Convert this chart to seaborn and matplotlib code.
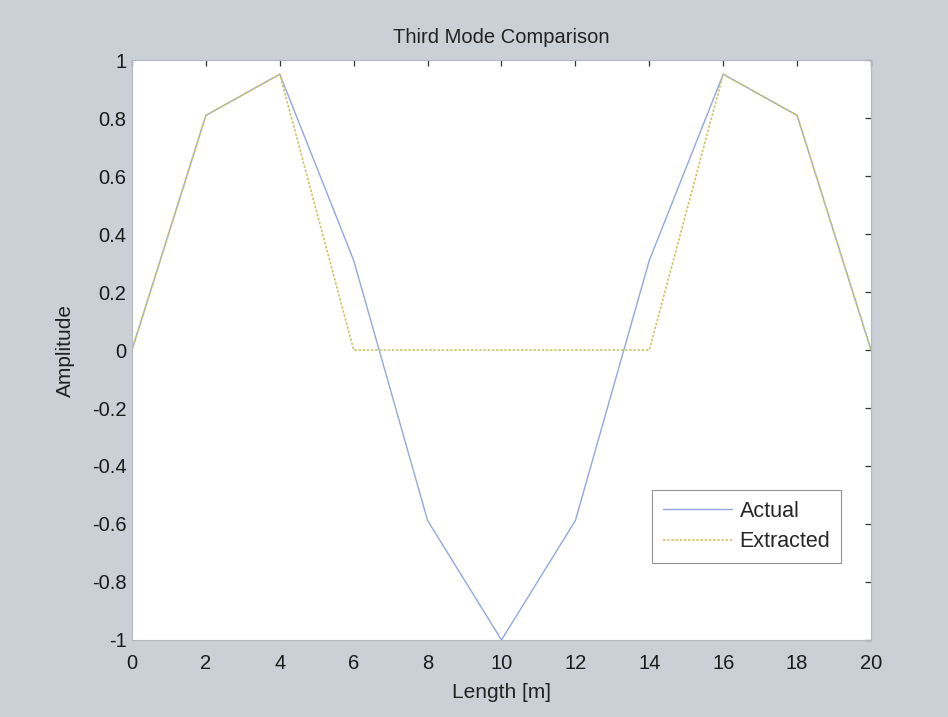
import matplotlib
matplotlib.use("Agg")
import matplotlib.pyplot as plt
import seaborn as sns
import pandas as pd

# Node positions along the beam and mode-shape amplitudes
length_m = [0, 2, 4, 6, 8, 10, 12, 14, 16, 18, 20]
actual = [0, 0.809, 0.951, 0.309, -0.588, -1.0, -0.588, 0.309, 0.951, 0.809, 0]
extracted = [0, 0.809, 0.951, 0, 0, 0, 0, 0, 0.951, 0.809, 0]

x_ticks = [0, 2, 4, 6, 8, 10, 12, 14, 16, 18, 20]
y_ticks = [-1, -0.8, -0.6, -0.4, -0.2, 0, 0.2, 0.4, 0.6, 0.8, 1]
y_tick_labels = ["-1", "-0.8", "-0.6", "-0.4", "-0.2", "0", "0.2", "0.4", "0.6", "0.8", "1"]

sns.set_theme(style="white")
plt.rcParams["font.family"] = ["Liberation Sans", "DejaVu Sans"]

fig = plt.figure(figsize=(9.48, 7.17), dpi=100)
fig.patch.set_facecolor("#cbd0d6")
ax = fig.add_axes([0.1392, 0.1074, 0.7796, 0.8089])
ax.set_facecolor("white")

df = pd.DataFrame({"Length": length_m, "Actual": actual, "Extracted": extracted})
sns.lineplot(data=df, x="Length", y="Actual", ax=ax, color="#94a6e2",
             linewidth=1.0, label="Actual")
sns.lineplot(data=df, x="Length", y="Extracted", ax=ax, color="#c9c765",
             linewidth=1.2, linestyle=(0, (1.5, 1.0)), label="Extracted")

ax.set_xlim(0, 20)
ax.set_ylim(-1, 1)
ax.set_xticks(x_ticks)
ax.set_yticks(y_ticks)
ax.set_yticklabels(y_tick_labels)
ax.tick_params(axis="both", direction="in", length=4, width=0.9, color="#333333",
               labelsize=14.5, labelcolor="#1a1a1a", top=True, right=True)
ax.tick_params(axis="x", pad=10)
ax.tick_params(axis="y", pad=4)
for s in ax.spines.values():
    s.set_color("#b4b8be")
    s.set_linewidth(0.8)

ax.set_xlabel("Length [m]", fontsize=15, color="#222222", labelpad=7)
ax.set_ylabel("Amplitude", fontsize=15, color="#222222", labelpad=12)
ax.set_title("Third Mode Comparison", fontsize=14.5, color="#222222", pad=12)

leg = ax.legend(loc="lower right", bbox_to_anchor=(0.9594, 0.1328), borderaxespad=0,
                fontsize=15.5, frameon=True, fancybox=False, handlelength=3.2,
                borderpad=0.5, labelspacing=0.45, handletextpad=0.35)
leg.get_frame().set_edgecolor("#777777")
leg.get_frame().set_linewidth(0.8)

fig.savefig("out.png", dpi=100, facecolor=fig.get_facecolor())
